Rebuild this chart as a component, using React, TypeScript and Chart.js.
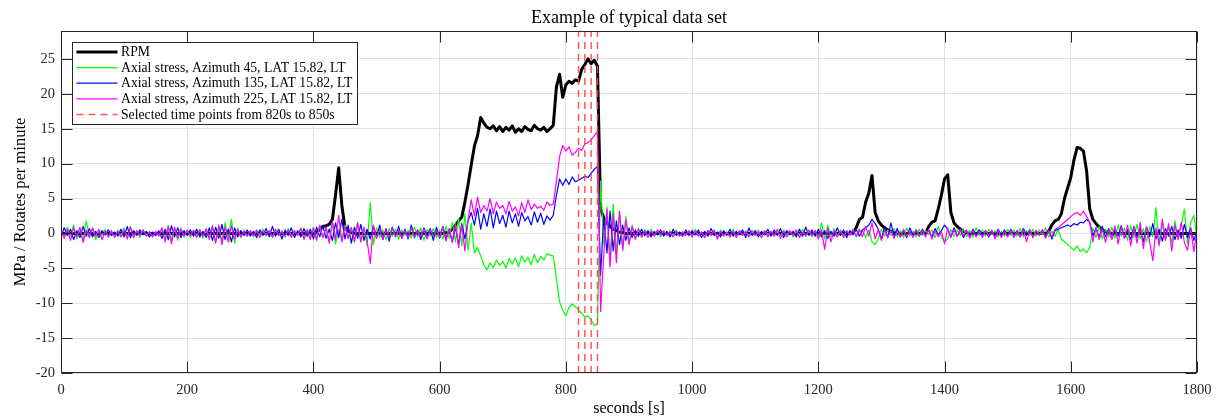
import { useEffect, useRef } from "react";
import { Chart, registerables } from "chart.js";

Chart.register(...registerables);

// ---------------- DATA ----------------
const STEP_S = 5; // one sample every 5 s, 0 .. 1800 s (361 samples)

const rpm = [
  0,0,0,0,0,0,0,0,0,0, 0,0,0,0,0,0,0,0,0,0,
  0,0,0,0,0,0,0,0,0,0, 0,0,0,0,0,0,0,0,0,0,
  0,0,0,0,0,0,0,0,0,0, 0,0,0,0,0,0,0,0,0,0,
  0,0,0,0,0,0,0,0,0,0, 0,0,0,0,0,0,0,0,0,0,
  0,0.1,0.6,1.0,1.1,1.3,2.0,5.5,9.4,4.0, 0.8,0.3,0.1,0,0,0,0,0,0,0,
  0,0,0,0,0,0,0,0,0,0, 0,0,0,0,0,0,0,0,0,0,
  0,0,0.1,0.2,0.6,1.2,1.8,2.3,4.5,7.0, 9.8,12.5,14.0,16.6,15.8,15.2,15.0,15.4,14.7,15.3,
  14.6,15.2,14.8,15.4,14.5,15.0,14.6,15.3,14.9,14.7, 15.5,15.0,14.8,15.2,14.6,15.0,15.5,21.0,22.8,19.5,
  21.3,21.8,21.5,22.0,21.8,23.5,24.2,25.0,24.3,24.8, 24.0,3.5,2.2,1.5,1.0,0.6,0.4,0.2,0.1,0,
  0,0,0,0,0,0,0,0,0,0, 0,0,0,0,0,0,0,0,0,0,
  0,0,0,0,0,0,0,0,0,0, 0,0,0,0,0,0,0,0,0,0,
  0,0,0,0,0,0,0,0,0,0, 0,0,0,0,0,0,0,0,0,0,
  0,0,0,0,0,0,0,0,0,0, 0,0.2,0.8,2.0,2.3,4.5,5.8,8.3,3.0,1.8,
  1.2,0.8,0.5,0.3,0.1,0,0,0,0,0, 0,0,0,0,0.1,1.0,1.6,1.8,3.5,5.5,
  7.8,8.4,3.0,1.5,1.0,0.6,0.3,0.1,0,0, 0,0,0,0,0,0,0,0,0,0,
  0,0,0,0,0,0,0,0,0,0, 0,0,0,0.3,1.2,1.8,2.0,2.8,5.0,6.5,
  8.0,10.5,12.3,12.2,11.8,9.0,3.5,2.0,1.4,0.9, 0.5,0.3,0.1,0,0,0,0,0,0,0,
  0,0,0,0,0,0,0,0,0,0, 0,0,0,0,0,0,0,0,0,0,
  0,
];

const stressAz45 = [
  0.3,-0.6,0.9,-0.4,1.2,-0.8,0.5,-1.1,1.8,-0.5, 0.7,-0.9,0.4,-0.3,0.6,-0.5,0.2,-0.4,0.5,-0.3,
  0.8,-0.7,1.0,-0.4,0.3,-0.6,0.5,-0.2,0.3,-0.4, 0.2,-0.3,0.6,-0.8,1.1,-0.9,0.7,-1.0,0.8,-0.5,
  0.4,-0.6,0.5,-0.3,0.6,-0.7,0.4,-0.5,1.2,-1.3, 0.9,-1.1,1.5,-0.8,2.0,-1.4,0.8,-0.6,0.5,-0.4,
  0.3,-0.5,0.4,-0.2,0.6,-0.4,0.3,-0.6,0.5,-0.3, 0.4,-0.5,0.7,-0.4,0.3,-0.2,0.8,-0.9,0.6,-0.5,
  0.9,-0.7,1.1,-0.6,0.8,-1.2,1.4,-1.5,0.6,-0.9, 1.2,-0.8,0.9,-1.3,1.6,-1.1,0.7,-1.8,4.4,-1.6,
  0.8,-0.6,0.5,-0.9,0.7,-0.4,0.6,-0.8,0.5,-0.3, 0.4,-0.7,0.9,-0.5,0.8,-1.0,0.6,-0.4,0.7,-0.6,
  0.5,-0.8,1.0,-0.7,1.6,-1.2,2.2,-1.8,2.8,-2.4, 1.5,-2.8,-2.0,-3.2,-4.5,-5.2,-4.2,-4.9,-3.8,-4.6,
  -4.0,-5.0,-3.6,-4.4,-3.5,-4.8,-3.2,-4.1,-3.4,-4.5, -3.0,-4.2,-3.3,-3.8,-2.9,-3.1,-3.2,-6.5,-9.8,-11.0,
  -11.8,-10.6,-10.1,-10.5,-11.0,-11.4,-12.0,-11.8,-12.4,-13.2, -13.0,7.5,-1.5,3.8,-3.5,4.2,-2.8,3.0,-2.2,2.4,
  -1.5,1.2,-0.9,0.8,-0.6,0.5,-0.4,0.6,-0.3,0.4, -0.5,0.3,-0.2,0.4,-0.3,0.5,-0.4,0.3,-0.2,0.3,
  -0.4,0.6,-0.3,0.2,-0.5,0.4,-0.2,0.3,-0.4,0.5, -0.3,0.2,-0.5,0.6,-0.4,0.3,-0.2,0.4,-0.3,0.2,
  -0.3,0.5,-0.6,0.4,-0.2,0.3,-0.4,0.2,-0.3,0.5, -0.2,0.4,-0.5,0.3,-0.2,0.6,-0.4,0.3,-0.5,0.4,
  -0.6,1.5,-0.8,1.2,-0.5,0.7,-0.4,0.5,-0.3,0.4, -0.2,0.6,-0.5,0.3,0.4,-0.6,0.5,-1.2,-1.6,-0.8,
  0.6,-0.4,0.5,-0.3,0.7,-0.5,0.4,-0.6,0.8,-0.4, 0.3,-0.5,0.6,-0.3,0.4,-0.2,0.5,-0.6,1.0,-0.5,
  -1.2,-0.8,0.6,-0.4,0.5,-0.3,0.7,-0.5,0.4,-0.6, 0.8,-0.3,0.5,-0.4,0.6,-0.2,0.4,-0.5,0.3,-0.4,
  0.6,-0.3,0.5,-0.4,0.7,-0.5,0.4,-0.3,0.6,-0.4, 0.5,-0.2,0.8,-0.5,0.3,-0.4,0.5,-0.8,-1.2,-1.6,
  -2.0,-2.4,-1.8,-2.6,-2.2,-2.8,-2.0,0.8,-0.6,1.0, -0.8,0.6,-0.5,0.9,-0.7,1.2,-0.4,0.8,-1.0,1.1,
  -0.6,1.3,-0.8,0.7,-1.2,1.0,-0.5,3.7,-1.8,1.5, -1.0,0.9,-1.4,1.8,-0.7,1.2,3.5,-1.5,1.6,2.6,
  -0.8,
];

const stressAz135 = [
  -0.5,0.8,-0.3,0.6,-0.9,0.4,-0.6,1.0,-0.4,0.7, -0.5,0.3,-0.6,0.4,-0.2,0.5,-0.3,0.2,-0.4,0.6,
  -0.5,1.0,-0.6,0.4,-0.3,0.5,-0.2,0.3,-0.5,0.2, -0.3,0.4,-0.7,0.6,-0.9,1.1,-0.5,0.8,-0.6,0.4,
  -0.3,0.5,-0.4,0.6,-0.5,0.3,-0.6,0.8,-1.0,0.9, -0.7,1.3,-0.9,0.6,-1.2,0.8,-0.5,0.4,-0.3,0.5,
  -0.4,0.3,-0.6,0.5,-0.3,0.7,-0.5,1.0,-0.4,0.6, -0.8,0.5,-0.3,0.8,-0.6,0.4,-0.5,0.7,-0.4,0.6,
  -0.8,0.9,-0.5,1.1,-0.7,0.6,-1.0,1.5,-0.6,2.0, -0.8,1.2,-1.4,0.9,-0.7,1.3,-1.0,0.6,-0.8,1.0,
  -0.6,1.2,-0.9,0.7,-1.1,0.9,-0.5,1.0,-0.7,0.6, -0.8,1.2,-0.6,0.5,-0.9,0.8,-0.4,0.7,-1.0,0.9,
  -0.7,1.0,-0.8,0.6,-1.2,0.9,-1.6,1.4,-0.8,1.8, 3.0,1.2,3.6,0.6,2.8,1.0,3.5,0.8,3.2,1.4,
  2.6,0.9,3.2,1.5,2.8,1.0,3.0,1.8,2.4,1.2, 3.1,1.6,2.9,1.3,2.5,1.9,2.6,5.5,7.8,6.9,
  7.8,7.0,8.1,7.4,7.6,7.9,8.2,8.0,8.6,9.2, 9.6,-6.0,2.5,-2.8,3.2,-2.5,1.8,-1.6,1.2,-1.0,
  0.8,-0.6,0.5,-0.4,0.6,-0.3,0.4,-0.5,0.3,-0.2, 0.5,-0.4,0.3,-0.5,0.6,-0.3,0.2,-0.4,0.5,-0.3,
  0.4,-0.2,0.5,-0.6,0.3,-0.4,0.7,-0.3,0.2,-0.5, 0.4,-0.3,0.6,-0.4,0.3,-0.2,0.5,-0.6,0.8,-0.3,
  0.4,-0.5,0.3,-0.2,0.6,-0.4,0.5,-0.3,0.7,-0.6, 0.4,-0.2,0.3,-0.5,0.6,-0.4,0.9,-0.3,0.5,-0.4,
  0.6,-0.5,0.4,-0.7,0.3,-0.4,0.8,-0.3,0.5,-0.6, 0.4,-0.2,0.6,-0.4,0.5,0.8,1.2,2.0,1.4,0.6,
  -0.8,0.9,-0.6,1.5,-0.4,0.7,-0.5,0.4,-0.6,0.8, -0.3,0.5,-0.4,0.6,-0.3,0.4,-0.5,0.7,-0.2,0.4,
  1.2,0.6,-0.5,0.8,-0.4,0.5,-0.6,0.3,-0.4,0.6, -0.3,0.5,-0.2,0.4,-0.5,0.3,-0.4,0.6,-0.3,0.5,
  -0.4,0.6,-0.3,0.4,-0.5,0.7,-0.3,0.5,-0.6,0.4, -0.2,0.3,-0.5,0.6,-0.8,0.4,0.6,0.8,1.0,1.2,
  1.0,1.4,1.2,1.6,1.5,2.0,1.6,-0.4,0.8,-0.6, 1.0,-0.5,0.7,-0.8,0.6,-0.4,1.1,-0.7,0.5,-0.9,
  1.0,-0.6,0.8,-1.2,0.9,-0.5,1.4,-0.8,0.6,-1.1, 0.7,-0.4,1.0,-0.9,0.5,-0.7,1.3,-0.6,0.8,-1.0,
  0.4,
];

const stressAz225 = [
  0.4,-0.7,0.6,-1.0,0.8,-0.5,0.9,-1.3,0.5,-0.6, 0.8,-0.4,0.6,-0.9,0.3,-0.5,0.4,-0.6,0.3,-0.5,
  0.5,-0.8,0.9,-0.6,0.4,-0.3,0.5,-0.4,0.2,-0.5, 0.3,-0.4,0.8,-1.2,1.0,-1.5,0.9,-0.7,0.6,-0.4,
  0.5,-0.3,0.4,-0.6,0.5,-0.4,0.7,-0.9,1.0,-1.4, 1.2,-1.6,0.9,-1.2,1.1,-0.8,0.6,-0.5,0.3,-0.4,
  0.4,-0.3,0.5,-0.6,0.3,-0.2,0.4,-0.5,0.6,-0.3, 0.2,-0.4,0.5,-0.6,0.4,-0.3,0.7,-0.8,0.5,-0.9,
  0.8,-1.0,1.2,-0.6,0.9,-1.4,1.8,-0.9,2.6,-1.2, 1.0,-0.7,0.8,-1.1,1.5,-1.2,0.9,-1.0,-4.3,1.2,
  -0.7,0.6,-0.9,0.5,-0.6,0.8,-0.4,0.5,-0.7,0.4, -0.6,0.8,-0.5,0.3,-0.4,0.6,-0.8,0.5,-0.3,0.4,
  -0.6,0.9,-1.1,0.7,-1.3,1.5,-2.0,1.2,-2.5,2.0, 4.8,2.5,5.2,3.0,4.0,3.2,5.0,2.8,4.5,3.6,
  4.0,2.8,4.6,3.2,3.8,2.5,4.4,3.0,4.8,3.4, 4.2,3.6,3.9,3.3,4.5,4.0,4.2,7.5,11.0,12.6,
  11.8,12.4,11.2,11.6,12.2,11.9,12.8,13.0,13.4,14.0, 14.6,-11.2,-3.0,3.5,-4.8,2.8,-4.2,3.2,-2.4,2.0,
  -1.6,1.0,-0.8,0.6,-0.5,0.4,-0.6,0.3,-0.4,0.5, -0.2,0.4,-0.3,0.2,-0.5,0.3,-0.4,0.2,-0.3,0.4,
  -0.5,0.3,-0.4,0.2,-0.6,0.4,-0.3,0.5,-0.8,0.3, -0.4,0.2,-0.5,0.3,-0.6,0.4,-0.3,0.2,-0.5,0.4,
  -0.3,0.2,-0.6,0.4,-0.5,0.3,-0.4,0.6,-0.7,0.3, -0.5,0.4,-0.3,0.5,-0.6,0.2,-0.4,0.5,-0.3,0.4,
  -0.8,0.5,-2.3,0.8,-1.2,0.4,-0.5,0.3,-0.6,0.4, -0.3,0.5,-0.4,0.6,-0.5,1.0,-0.4,1.5,-0.8,0.6,
  -1.0,0.5,-0.6,0.4,-0.7,0.3,-0.5,0.6,-0.4,0.3, -0.6,0.5,-0.3,0.4,-0.5,0.6,-0.8,0.4,-0.5,0.3,
  -1.5,0.8,-0.6,0.5,-0.4,0.6,-0.3,0.5,-0.7,0.4, -0.5,0.3,-0.6,0.4,-0.3,0.5,-0.8,0.4,-0.6,0.3,
  -0.5,0.4,-0.6,0.3,-0.4,0.5,-1.2,0.6,-0.5,0.4, -0.3,0.6,-0.7,0.4,-0.5,0.6,0.8,1.2,1.6,2.0,
  2.4,2.8,3.0,2.6,3.2,2.4,1.6,-1.2,0.8,-0.9, 0.7,-1.3,0.6,-0.8,1.1,-1.5,0.9,-0.7,1.2,-1.8,
  0.9,-1.4,1.6,-2.2,1.0,-1.2,-3.9,0.8,-1.6,2.0, -1.0,1.4,-2.5,1.2,-0.9,1.6,-1.3,-2.4,0.7,-2.6,
  0.5,
];

const selectedTimes = [820, 830, 840, 850];

const xTicks = [0, 200, 400, 600, 800, 1000, 1200, 1400, 1600, 1800];
const yTicks = [-20, -15, -10, -5, 0, 5, 10, 15, 20, 25];
const X_MIN = 0;
const X_MAX = 1800;
const Y_MIN = -20;
const Y_MAX = 29;

const TITLE = "Example of typical data set";
const X_LABEL = "seconds [s]";
const Y_LABEL = "MPa / Rotates per minute";
const LABEL_RPM = "RPM";
const LABEL_AZ45 = "Axial stress, Azimuth 45, LAT 15.82, LT";
const LABEL_AZ135 = "Axial stress, Azimuth 135, LAT 15.82, LT";
const LABEL_AZ225 = "Axial stress, Azimuth 225, LAT 15.82, LT";
const LABEL_SEL = "Selected time points from 820s to 850s";

// ---------------- STYLE ----------------
const FONT = '"Liberation Serif", "Times New Roman", serif';
const AXIS_COLOR = "#262626";
const C_RPM = "#000000";
const C_AZ45 = "#00ff00";
const C_AZ135 = "#0000ff";
const C_AZ225 = "#ff00ff";
const C_SEL = "rgba(255, 70, 70, 0.9)";

const toPoints = (vals: number[]) => vals.map((v, i) => ({ x: i * STEP_S, y: v }));

const overlayPlugin = {
  id: "matlabOverlay",
  afterDraw(chart: any) {
    const { ctx, chartArea: a, scales } = chart;
    const xs = scales.x;
    const ys = scales.y;
    ctx.save();

    // axes box
    ctx.strokeStyle = AXIS_COLOR;
    ctx.lineWidth = 1;
    ctx.setLineDash([]);
    const L = Math.round(a.left) + 0.5;
    const R = Math.round(a.right) - 0.5;
    const T = Math.round(a.top) + 0.5;
    const B = Math.round(a.bottom) - 0.5;
    ctx.strokeRect(L, T, R - L, B - T);

    // inward ticks on all four sides
    const TL = 11;
    ctx.beginPath();
    for (const v of xTicks) {
      const px = Math.round(xs.getPixelForValue(v)) + 0.5;
      ctx.moveTo(px, B);
      ctx.lineTo(px, B - TL);
      ctx.moveTo(px, T);
      ctx.lineTo(px, T + TL);
    }
    for (const v of yTicks) {
      const py = Math.round(ys.getPixelForValue(v)) + 0.5;
      ctx.moveTo(L, py);
      ctx.lineTo(L + TL, py);
      ctx.moveTo(R, py);
      ctx.lineTo(R - TL, py);
    }
    ctx.stroke();

    // legend
    const bx = L + 11;
    const by = T + 11;
    const bw = 285;
    const bh = 82;
    ctx.fillStyle = "#ffffff";
    ctx.fillRect(bx, by, bw, bh);
    ctx.strokeStyle = AXIS_COLOR;
    ctx.lineWidth = 1;
    ctx.strokeRect(bx, by, bw, bh);
    const items = [
      { label: LABEL_RPM, color: C_RPM, width: 3, dash: [] as number[] },
      { label: LABEL_AZ45, color: C_AZ45, width: 1.2, dash: [] as number[] },
      { label: LABEL_AZ135, color: C_AZ135, width: 1.2, dash: [] as number[] },
      { label: LABEL_AZ225, color: C_AZ225, width: 1.2, dash: [] as number[] },
      { label: LABEL_SEL, color: C_SEL, width: 1.5, dash: [7, 5] },
    ];
    ctx.font = `13.7px ${FONT}`;
    ctx.textBaseline = "middle";
    ctx.textAlign = "left";
    items.forEach((it, i) => {
      const yy = by + 9.5 + i * 15.6;
      ctx.beginPath();
      ctx.strokeStyle = it.color;
      ctx.lineWidth = it.width;
      ctx.setLineDash(it.dash);
      ctx.moveTo(bx + 4, yy);
      ctx.lineTo(bx + 45, yy);
      ctx.stroke();
      ctx.setLineDash([]);
      ctx.fillStyle = "#000000";
      ctx.fillText(it.label, bx + 48.5, yy + 0.5);
    });

    // title and axis labels
    const cx = (a.left + a.right) / 2;
    const cy = (a.top + a.bottom) / 2;
    ctx.fillStyle = "#000000";
    ctx.textAlign = "center";
    ctx.textBaseline = "alphabetic";
    ctx.font = `18px ${FONT}`;
    ctx.fillText(TITLE, cx, 22.5);
    ctx.font = `16px ${FONT}`;
    ctx.fillText(X_LABEL, cx, 413);
    ctx.save();
    ctx.translate(25, cy);
    ctx.rotate(-Math.PI / 2);
    ctx.font = `16.5px ${FONT}`;
    ctx.fillText(Y_LABEL, 0, 0);
    ctx.restore();

    ctx.restore();
  },
};

export default function App() {
  const canvasRef = useRef<HTMLCanvasElement | null>(null);

  useEffect(() => {
    const canvas = canvasRef.current;
    if (!canvas) return;

    const selDatasets = selectedTimes.map((t) => ({
      label: LABEL_SEL,
      data: [
        { x: t, y: Y_MIN },
        { x: t, y: Y_MAX },
      ],
      borderColor: C_SEL,
      borderWidth: 1.5,
      borderDash: [7, 5],
      pointRadius: 0,
      fill: false,
    }));

    const lineDs = (label: string, vals: number[], color: string, width: number) => ({
      label,
      data: toPoints(vals),
      borderColor: color,
      backgroundColor: color,
      borderWidth: width,
      pointRadius: 0,
      tension: 0,
      fill: false,
      borderJoinStyle: "round" as const,
      borderCapStyle: "round" as const,
    });

    const tickFont = { family: FONT, size: 14.5 };

    const chart = new Chart(canvas, {
      type: "line",
      data: {
        // first dataset is painted last (on top)
        datasets: [
          ...selDatasets,
          lineDs(LABEL_AZ225, stressAz225, C_AZ225, 1.2),
          lineDs(LABEL_AZ135, stressAz135, C_AZ135, 1.2),
          lineDs(LABEL_AZ45, stressAz45, C_AZ45, 1.2),
          lineDs(LABEL_RPM, rpm, C_RPM, 3),
        ] as any,
      },
      options: {
        animation: false,
        responsive: false,
        devicePixelRatio: 1,
        events: [],
        layout: { padding: { top: 31, right: 23, left: 0, bottom: 0 } },
        plugins: {
          legend: { display: false },
          title: { display: false },
          tooltip: { enabled: false },
        },
        scales: {
          x: {
            type: "linear",
            min: X_MIN,
            max: X_MAX,
            afterFit: (s: any) => {
              s.height = 45;
            },
            afterBuildTicks: (s: any) => {
              s.ticks = xTicks.map((v) => ({ value: v }));
            },
            grid: { color: "#e2e2e2", lineWidth: 1, drawTicks: false },
            border: { display: false },
            ticks: {
              padding: 8,
              font: tickFont,
              color: AXIS_COLOR,
              maxRotation: 0,
              autoSkip: false,
              callback: (v: any) => String(v),
            },
          },
          y: {
            type: "linear",
            min: Y_MIN,
            max: Y_MAX,
            afterFit: (s: any) => {
              s.width = 61;
            },
            afterBuildTicks: (s: any) => {
              s.ticks = yTicks.map((v) => ({ value: v }));
            },
            grid: { color: "#e2e2e2", lineWidth: 1, drawTicks: false },
            border: { display: false },
            ticks: {
              padding: 6,
              font: tickFont,
              color: AXIS_COLOR,
              autoSkip: false,
              callback: (v: any) => String(v),
            },
          },
        },
      },
      plugins: [overlayPlugin],
    });

    return () => chart.destroy();
  }, []);

  return (
    <div
      style={{
        position: "fixed",
        left: 0,
        top: 0,
        width: 1220,
        height: 418,
        background: "#ffffff",
      }}
    >
      <canvas ref={canvasRef} width={1220} height={418} style={{ display: "block" }} />
    </div>
  );
}
